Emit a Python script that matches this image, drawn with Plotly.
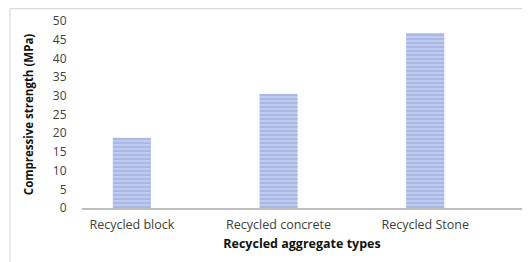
import plotly.graph_objects as go

categories = ["Recycled block", "Recycled concrete", "Recycled Stone"]
strength = [18.8, 30.5, 46.8]
y_ticks = [0, 5, 10, 15, 20, 25, 30, 35, 40, 45, 50]

fig = go.Figure()
fig.add_trace(go.Bar(
    x=categories, y=strength, width=0.26,
    marker=dict(
        color="#B9C5EA",
        line=dict(width=0),
        pattern=dict(shape="-", bgcolor="#C0CBEE", fgcolor="#8A9CDA", size=4, solidity=0.4),
    ),
))

fig.update_layout(
    width=530, height=262,
    margin=dict(l=74, r=16, t=13, b=62),
    paper_bgcolor="white", plot_bgcolor="white",
    showlegend=False,
    font=dict(family="Open Sans", size=12, color="#404040"),
    xaxis=dict(
        range=[-0.34, 2.66], automargin=False,
        showline=True, linecolor="#BFBFBF", linewidth=1.5,
        ticks="outside", ticklen=4, tickcolor="rgba(0,0,0,0)",
        tickfont=dict(size=12.5, color="#404040"),
        title=dict(text="<b>Recycled aggregate types</b>", font=dict(size=12.5, color="#111111"), standoff=7),
    ),
    yaxis=dict(
        range=[0, 50], tickvals=y_ticks, showgrid=False, zeroline=False, automargin=False,
        showline=False, ticks="outside", ticklen=12, tickcolor="rgba(0,0,0,0)",
        tickfont=dict(size=12, color="#404040"),
        title=dict(text="<b>Compressive strength (MPa)</b>", font=dict(size=11.5, color="#111111"), standoff=16),
    ),
)

# chart-area border (top and left edges visible)
fig.add_shape(type="line", xref="paper", yref="paper", x0=-0.1636, x1=1.05, y0=1.066, y1=1.066,
              line=dict(color="#D9D9D9", width=1.2))
fig.add_shape(type="line", xref="paper", yref="paper", x0=-0.1636, x1=-0.1636, y0=1.066, y1=-0.4,
              line=dict(color="#D9D9D9", width=1.2))

fig.write_html("out.html")
